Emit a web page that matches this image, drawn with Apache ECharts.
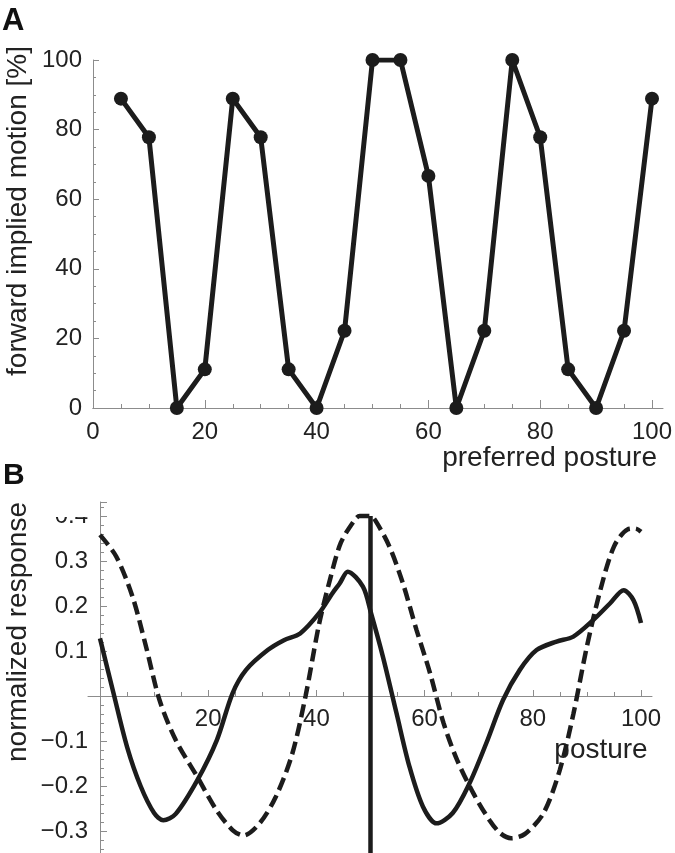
<!DOCTYPE html>
<html>
<head>
<meta charset="utf-8">
<script src="https://cdn.jsdelivr.net/npm/echarts@6/dist/echarts.min.js"></script>
<style>
html,body{margin:0;padding:0;background:#fff;}
#chart{width:675px;height:853px;}
</style>
</head>
<body>
<div id="chart"></div>
<script>
// Panel A data
var postureA = [5,10,15,20,25,30,35,40,45,50,55,60,65,70,75,80,85,90,95,100];
var motionA = [88.9,77.8,0,11.1,88.9,77.8,11.1,0,22.2,100,100,66.7,0,22.2,100,77.8,11.1,0,22.2,88.9];
var ticksA = [0,20,40,60,80,100];

// Panel B data
var solidX = [0,2.5,5,7.5,10,11.7,14,18,21.6,24.5,27,31,34,37,40.5,43,44.3,45.8,48.6,50.1,52.3,54.8,57.2,59.7,62.2,65.2,68.3,71.4,74.5,77.6,80.7,84.4,87.5,91.2,94.3,96.8,98.6,100];
var solidY = [0.128,0.006,-0.113,-0.2,-0.26,-0.276,-0.262,-0.187,-0.098,0.006,0.058,0.102,0.124,0.139,0.184,0.229,0.25,0.276,0.243,0.184,0.087,-0.038,-0.157,-0.246,-0.283,-0.26,-0.194,-0.105,-0.009,0.058,0.102,0.121,0.132,0.169,0.206,0.235,0.213,0.162];
var dashedX = [0,3,6,8.5,11,14,18,21.5,24.5,26.5,29.5,32.5,35.5,38,40.5,42.5,44.5,47,48,50,51,53.5,56,58.5,61,63.5,66,69,72,74,76,78.5,82,85,87.5,90,92.5,95,97.5,99,100];
var dashedY = [0.358,0.31,0.221,0.11,-0.009,-0.098,-0.18,-0.253,-0.298,-0.31,-0.283,-0.224,-0.13,0,0.16,0.258,0.34,0.39,0.4,0.4,0.388,0.332,0.25,0.147,0.051,-0.06,-0.142,-0.216,-0.276,-0.305,-0.316,-0.307,-0.26,-0.164,-0.04,0.11,0.236,0.332,0.37,0.372,0.365];
var markerX = [50,50];
var markerY = [0.4,-0.4];
var ticksBX = [20,40,60,80,100];
var ticksBY = [-0.3,-0.2,-0.1,0.1,0.2,0.3,0.4];

function zip(a,b){var r=[];for(var i=0;i<a.length;i++){r.push([a[i],b[i]]);}return r;}

var FONT = '"Liberation Sans", Arial, Helvetica, sans-serif';
var INK = '#1c1c1c';
var AX = '#8c8c8c';
var TXT = '#222';

var chart = echarts.init(document.getElementById('chart'), null, {renderer:'canvas'});

function hiddenAxis(gi, min, max){
  return {type:'value', gridIndex:gi, min:min, max:max, show:false};
}
function lineOnlyX(gi){
  return {type:'value', gridIndex:gi, min:0, max:1,
    axisLine:{show:true, onZero:false, lineStyle:{color:AX, width:1}},
    axisTick:{show:false}, axisLabel:{show:false}, splitLine:{show:false}};
}
function inList(list, v){
  for (var i=0;i<list.length;i++){ if (Math.abs(list[i]-v) < 1e-6) return true; }
  return false;
}

var option = {
  animation:false,
  backgroundColor:'#fff',
  grid:[
    {left:93, right:23, top:60, bottom:445, outerBoundsMode:'none', containLabel:false},
    {left:93, right:12, top:60, bottom:445, outerBoundsMode:'none', containLabel:false},
    {left:100, right:34, top:502, height:374, outerBoundsMode:'none', containLabel:false},
    {left:88, right:23, top:600, bottom:157, outerBoundsMode:'none', containLabel:false},
    {left:100, right:34, top:600, bottom:157, outerBoundsMode:'none', containLabel:false}
  ],
  xAxis:[
    {type:'value', gridIndex:0, min:0, max:100, interval:20,
      axisLine:{show:true, onZero:false, lineStyle:{color:AX, width:1}},
      axisTick:{show:true, inside:true, length:8, lineStyle:{color:AX, width:1}},
      minorTick:{show:true, splitNumber:4, length:4, lineStyle:{color:AX, width:1}},
      axisLabel:{show:true, margin:12, fontSize:24, fontFamily:FONT, color:TXT,
        formatter:function(v){ return inList(ticksA, v) ? String(v) : ''; }},
      splitLine:{show:false}, minorSplitLine:{show:false}},
    lineOnlyX(1),
    {type:'value', gridIndex:2, min:0, max:100, show:false},
    lineOnlyX(3),
    {type:'value', gridIndex:4, min:0, max:100, interval:20, position:'bottom',
      axisLine:{show:true, onZero:false, lineStyle:{color:AX, width:1}},
      axisTick:{show:true, inside:true, length:6, lineStyle:{color:AX, width:1}},
      minorTick:{show:true, splitNumber:4, length:4, lineStyle:{color:AX, width:1}},
      axisLabel:{show:true, margin:11, fontSize:24, fontFamily:FONT, color:TXT,
        formatter:function(v){ return inList(ticksBX, v) ? String(v) : ''; }},
      splitLine:{show:false}, minorSplitLine:{show:false}}
  ],
  yAxis:[
    {type:'value', gridIndex:0, min:0, max:100, interval:20,
      axisLine:{show:true, onZero:false, lineStyle:{color:AX, width:1}},
      axisTick:{show:true, inside:true, length:6, lineStyle:{color:AX, width:1}},
      minorTick:{show:true, splitNumber:4, length:3, lineStyle:{color:AX, width:1}},
      axisLabel:{show:true, margin:11, fontSize:24, fontFamily:FONT, color:TXT,
        formatter:function(v){ return inList(ticksA, v) ? String(v) : ''; }},
      splitLine:{show:false}, minorSplitLine:{show:false}},
    hiddenAxis(1,0,1),
    {type:'value', gridIndex:2, min:-0.4, max:0.431, interval:0.1,
      axisLine:{show:true, onZero:false, lineStyle:{color:AX, width:1}},
      axisTick:{show:true, inside:true, length:7, lineStyle:{color:AX, width:1}},
      minorTick:{show:true, splitNumber:5, length:4, lineStyle:{color:AX, width:1}},
      axisLabel:{show:true, margin:12, fontSize:24, fontFamily:FONT, color:TXT,
        formatter:function(v){
          if (!inList(ticksBY, v)) return '';
          return (v < 0 ? '\u2212' : '') + Math.abs(v).toFixed(1);
        }},
      splitLine:{show:false}, minorSplitLine:{show:false}},
    hiddenAxis(3,0,1),
    hiddenAxis(4,0,1)
  ],
  series:[
    {type:'line', xAxisIndex:0, yAxisIndex:0, data:zip(postureA, motionA),
      symbol:'circle', symbolSize:14, showSymbol:true, clip:true,
      lineStyle:{color:INK, width:5}, itemStyle:{color:INK}, z:3},
    {type:'line', xAxisIndex:2, yAxisIndex:2, data:zip(solidX, solidY),
      symbol:'none', smooth:0.3, clip:true,
      lineStyle:{color:INK, width:4.5, cap:'butt'}, z:3},
    {type:'line', xAxisIndex:2, yAxisIndex:2, data:zip(dashedX, dashedY),
      symbol:'none', smooth:0.3, clip:true,
      lineStyle:{color:INK, width:4.5, type:[13,6], cap:'butt'}, z:3},
    {type:'line', xAxisIndex:2, yAxisIndex:2, data:zip(markerX, markerY),
      symbol:'none', clip:false,
      lineStyle:{color:INK, width:4.5}, z:3}
  ],
  graphic:[
    {type:'text', x:2, y:6, z:10, style:{text:'A', font:'bold 31px ' + FONT, fill:'#111'}},
    {type:'text', x:3, y:461, z:10, style:{text:'B', font:'bold 30px ' + FONT, fill:'#111'}},
    {type:'text', x:18, y:211, rotation:Math.PI/2, z:1,
      style:{text:'forward implied motion [%]', font:'28px ' + FONT, fill:TXT, align:'center', verticalAlign:'middle'}},
    {type:'text', x:657, y:458, z:1,
      style:{text:'preferred posture', font:'28px ' + FONT, fill:TXT, align:'right', verticalAlign:'middle'}},
    {type:'text', x:18, y:632, rotation:Math.PI/2, z:1,
      style:{text:'normalized response', font:'28px ' + FONT, fill:TXT, align:'center', verticalAlign:'middle'}},
    {type:'text', x:601, y:750, z:1,
      style:{text:'posture', font:'28px ' + FONT, fill:TXT, align:'center', verticalAlign:'middle'}},
    {type:'rect', z:100, shape:{x:38, y:492, width:58, height:25}, style:{fill:'#fff'}}
  ]
};
chart.setOption(option);
</script>
</body>
</html>
